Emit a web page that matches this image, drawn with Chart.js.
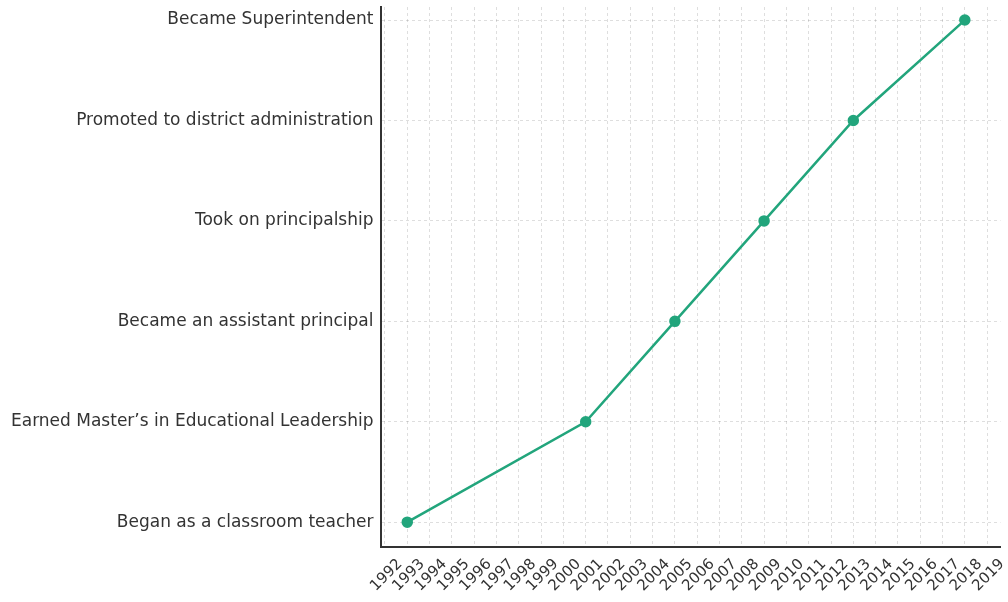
<!DOCTYPE html>
<html lang="en">
<head>
    <meta charset="UTF-8">
    <title>Career timeline</title>
    <style>
        html, body {
            margin: 0;
            padding: 0;
            background: #fff;
        }
        .chart-container {
            width: 1008px;
            height: 602px;
        }
    </style>
    <script src="https://cdn.jsdelivr.net/npm/chart.js"></script>
</head>
<body>
    <div class="chart-container">
        <canvas id="timeline"></canvas>
    </div>

    <script>
        // Etapas (eje Y, de abajo hacia arriba)
        const milestones = [
            'Began as a classroom teacher',
            'Earned Master\u2019s in Educational Leadership',
            'Became an assistant principal',
            'Took on principalship',
            'Promoted to district administration',
            'Became Superintendent'
        ];
        // Año en el que ocurre cada etapa
        const milestoneYears = [1993, 2001, 2005, 2009, 2013, 2018];
        // Etiquetas del eje X
        const tickYears = [1992, 1993, 1994, 1995, 1996, 1997, 1998, 1999, 2000,
            2001, 2002, 2003, 2004, 2005, 2006, 2007, 2008, 2009, 2010,
            2011, 2012, 2013, 2014, 2015, 2016, 2017, 2018, 2019];

        const lineColor = '#22a57c';
        const textColor = '#333';
        const gridColor = 'rgba(0, 0, 0, 0.13)';

        const points = milestoneYears.map((year, i) => ({ x: year, y: i }));

        const ctx = document.getElementById('timeline').getContext('2d');
        new Chart(ctx, {
            type: 'line',
            data: {
                datasets: [{
                    data: points,
                    borderColor: lineColor,
                    backgroundColor: lineColor,
                    borderWidth: 2.5,
                    pointRadius: 4.5,
                    pointHoverRadius: 4.5,
                    tension: 0,
                    clip: false
                }]
            },
            options: {
                responsive: true,
                maintainAspectRatio: false,
                animation: false,
                layout: {
                    padding: { top: 0, right: 6, left: 4, bottom: -1 }
                },
                scales: {
                    x: {
                        type: 'linear',
                        min: 1991.8,
                        max: 2019.6,
                        afterBuildTicks: function(axis) {
                            axis.ticks = tickYears.map(v => ({ value: v }));
                        },
                        ticks: {
                            color: textColor,
                            font: { family: 'DejaVu Sans', size: 15 },
                            maxRotation: 45,
                            minRotation: 45,
                            autoSkip: false,
                            labelOffset: 15,
                            padding: 8,
                            callback: function(value) {
                                return String(value);
                            }
                        },
                        grid: {
                            color: gridColor,
                            drawTicks: false
                        },
                        border: {
                            color: '#333',
                            width: 2,
                            dash: [3, 3]
                        }
                    },
                    y: {
                        type: 'linear',
                        min: -0.25,
                        max: 5.13,
                        afterBuildTicks: function(axis) {
                            axis.ticks = milestones.map((m, i) => ({ value: i }));
                        },
                        // sin margen arriba: el eje llega hasta el borde como en el original
                        afterFit: function(axis) {
                            axis.paddingTop = 0;
                        },
                        ticks: {
                            color: textColor,
                            font: { family: 'DejaVu Sans', size: 17 },
                            padding: 7,
                            callback: function(value) {
                                return milestones[value];
                            }
                        },
                        grid: {
                            color: gridColor,
                            drawTicks: false
                        },
                        border: {
                            color: '#333',
                            width: 2,
                            dash: [3, 3]
                        }
                    }
                },
                plugins: {
                    legend: { display: false },
                    tooltip: { enabled: false }
                }
            }
        });
    </script>
</body>
</html>
